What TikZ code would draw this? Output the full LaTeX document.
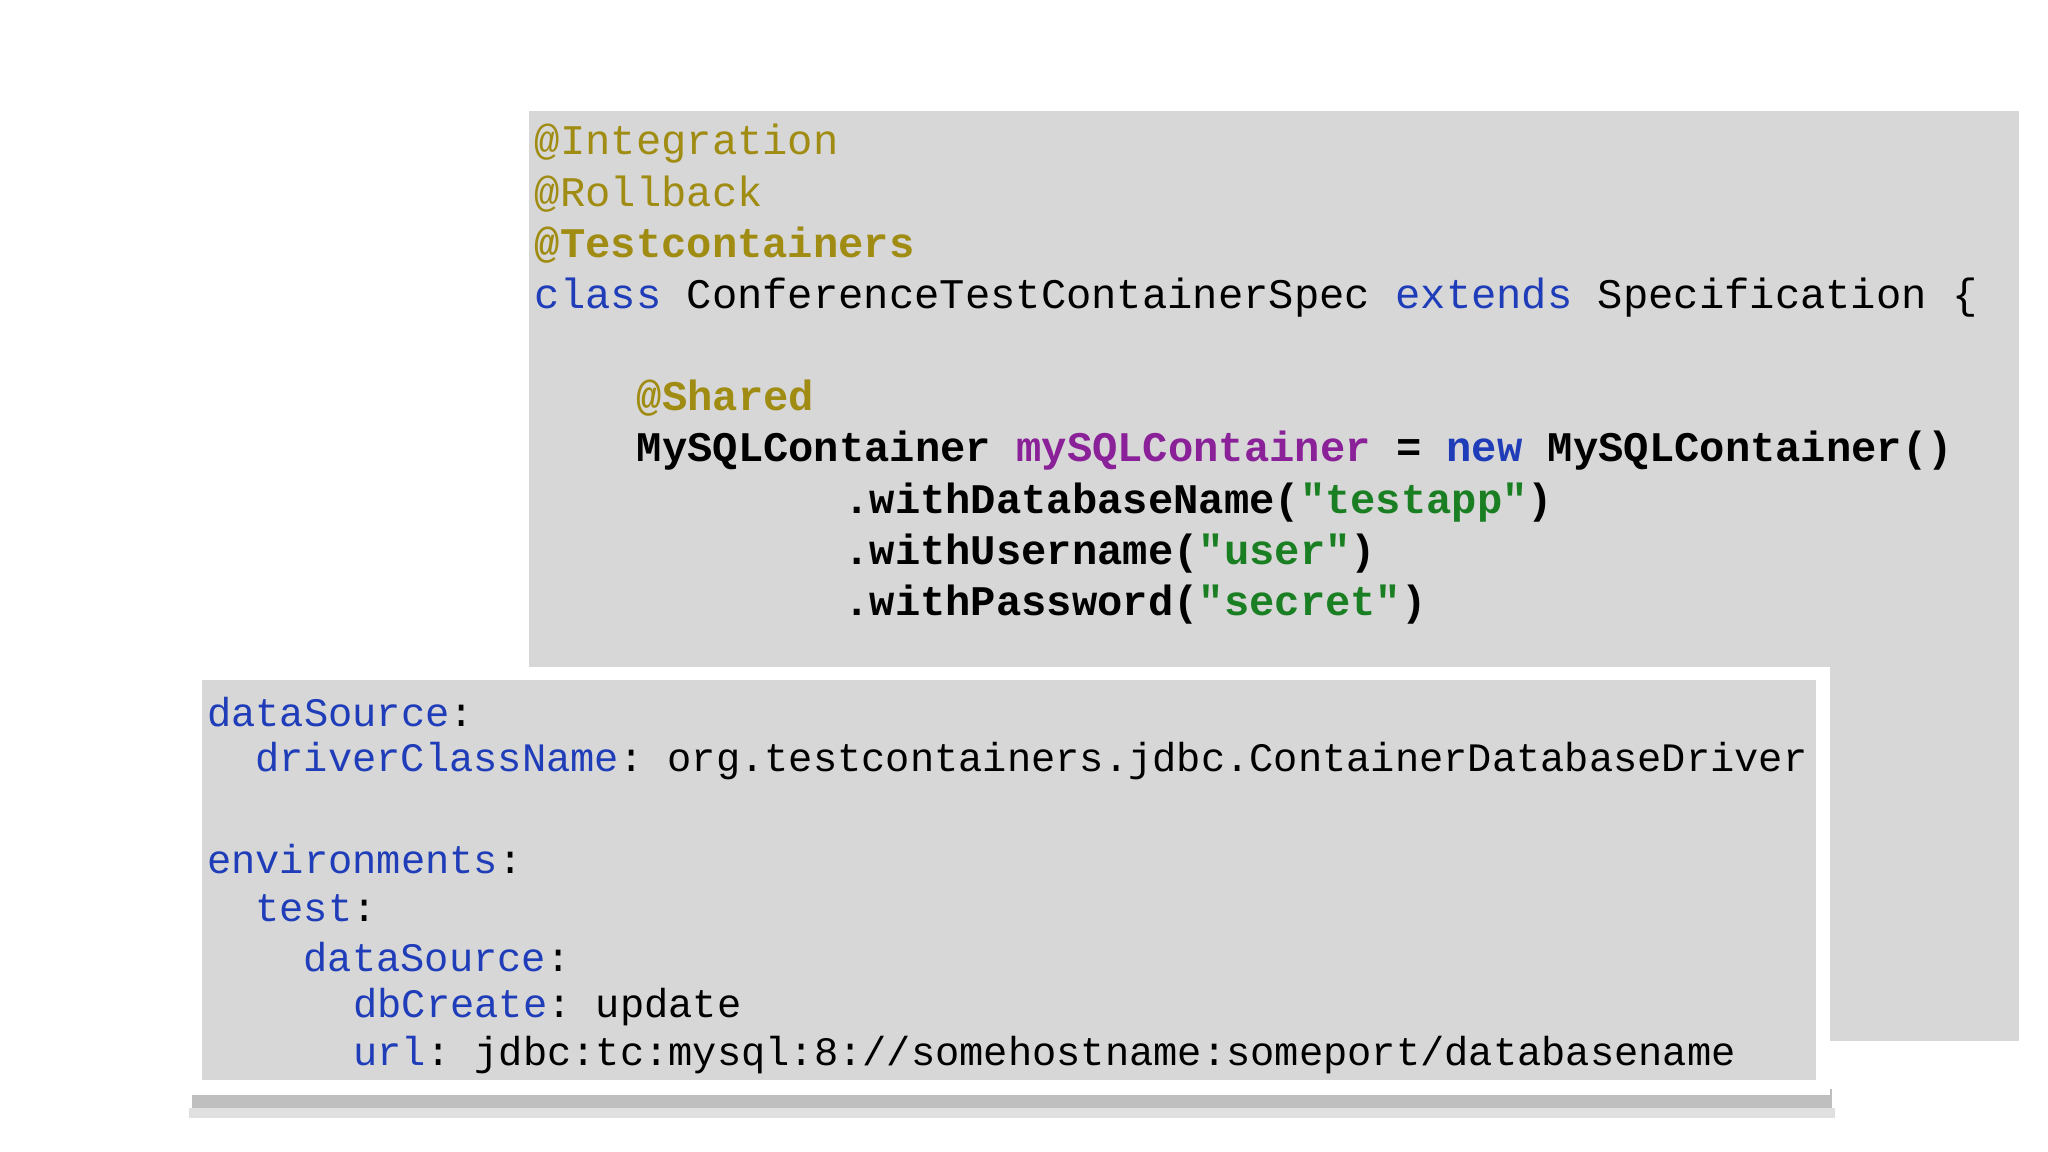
\documentclass[tikz,border=0pt]{standalone}
\usepackage{fontspec}
\setmonofont{Liberation Mono}
\definecolor{ann}{HTML}{A08C12}
\definecolor{kw}{HTML}{1F3DB8}
\definecolor{pur}{HTML}{8A2199}
\definecolor{str}{HTML}{1A7F22}
\definecolor{bgg}{HTML}{D7D7D7}
\tikzset{code/.style={anchor=west,inner sep=0pt,font=\ttfamily\fontsize{12}{14}\selectfont},
 yml/.style={anchor=west,inner sep=0pt,font=\ttfamily\fontsize{11.5}{14}\selectfont}}
\begin{document}
\begin{tikzpicture}[x=0.01306cm,y=-0.01306cm]
\useasboundingbox (0,0) rectangle (1568,882);
\fill[bgg] (405,85) rectangle (1546,797);
\node[code,text=ann] (a1) at (409,110) {@Integration};
\node[code,text=ann] (a2) at (409,149) {@Rollback};
\node[code,text=ann] (a3) at (409,188) {\bfseries @Testcontainers};
\node[code] (c1) at (409,228) {\textcolor{kw}{class} ConferenceTestContainerSpec \textcolor{kw}{extends} Specification \{};
\node[code,text=ann] (a4) at (487,305) {\bfseries @Shared};
\node[code] (m1) at (487,345) {\bfseries MySQLContainer \textcolor{pur}{mySQLContainer} = \textcolor{kw}{new} MySQLContainer()};
\node[code] (m2) at (646,385) {\bfseries .withDatabaseName(\textcolor{str}{"testapp"})};
\node[code] (m3) at (646,424) {\bfseries .withUsername(\textcolor{str}{"user"})};
\node[code] (m4) at (646,463) {\bfseries .withPassword(\textcolor{str}{"secret"})};
% bottom box with shadow
\fill[black!25] (147,834) rectangle (1403,850);
\fill[black!12] (145,848) rectangle (1405,856);
\fill[white] (143,511) rectangle (1401,838);
\fill[bgg] (155,521) rectangle (1390,827);
\node[yml] (y1) at (158,545) {\textcolor{kw}{dataSource}:};
\node[yml] (y2) at (195,583) {\textcolor{kw}{driverClassName}: org.testcontainers.jdbc.ContainerDatabaseDriver};
\node[yml] (y3) at (158,658) {\textcolor{kw}{environments}:};
\node[yml] (y4) at (195,695) {\textcolor{kw}{test}:};
\node[yml] (y5) at (232,733) {\textcolor{kw}{dataSource}:};
\node[yml] (y6) at (270,771) {\textcolor{kw}{dbCreate}: update};
\node[yml] (y7) at (270,808) {\textcolor{kw}{url}: jdbc:tc:mysql:8://somehostname:someport/databasename};
\end{tikzpicture}
\end{document}
